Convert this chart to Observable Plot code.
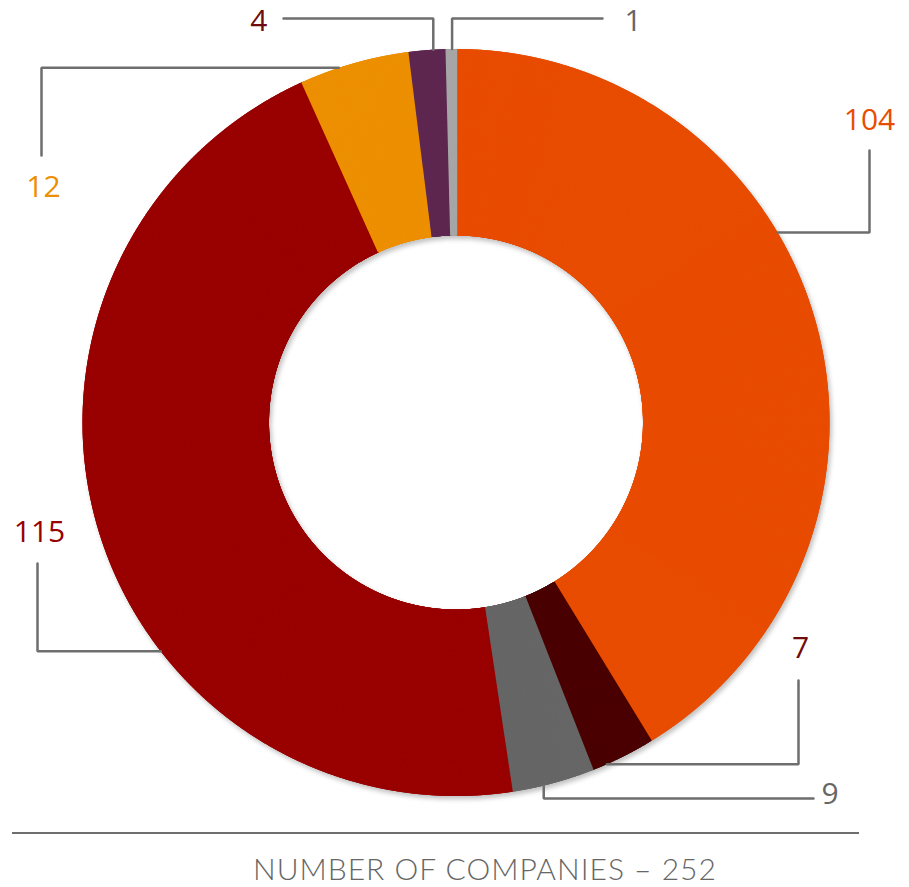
<!DOCTYPE html>
<html><head><meta charset="utf-8">
<script src="https://cdn.jsdelivr.net/npm/d3@7"></script>
<script src="https://cdn.jsdelivr.net/npm/@observablehq/plot@0.6"></script>
<style>
body{margin:0;background:#fff;}
#wrap{position:relative;width:909px;height:887px;overflow:hidden;}
#rule{position:absolute;left:12px;top:832px;width:847px;height:0;border-top:2.5px solid #6e6e6e;}
#caption{position:absolute;left:253px;top:850px;text-align:left;font-family:Lato,"Open Sans",sans-serif;font-weight:300;font-size:30px;letter-spacing:1px;color:#666666;white-space:nowrap;}
</style></head><body>
<div id="wrap"><div id="chart"></div><div id="rule"></div><div id="caption"></div></div>
<script>
// ---- data ----
const segments = ["Segment 1","Segment 2","Segment 3","Segment 4","Segment 5","Segment 6","Segment 7"];
const companies = [104, 7, 9, 115, 12, 4, 1];
const captionText = "NUMBER OF COMPANIES – 252";

// ---- styles ----
const sliceColors = ["#e84c00","#4a0000","#666666","#990000","#ec8f00","#5e2750","#a6a6a6"];
const labelColors = ["#e84c00","#6e0b0b","#666666","#990000","#ec8f00","#6e0b0b","#666666"];

// ---- layout ----
const W = 909, H = 815;
const cx = 455.5, cy = 422, R = 373.5, R0 = 187;
// leader layout: t = fraction along slice where connector starts; kind hv = horizontal then vertical
const leaders = [
  {t:0.40, kind:"hv", ex:869, ey:150, dx:0,  dy:-30, anchor:"middle"},
  {t:0.76, kind:"hv", ex:798, ey:680, dx:2,  dy:-32, anchor:"middle"},
  {t:0.61, kind:"vh", ex:813, ey:798, dx:8,  dy:-4,  anchor:"start"},
  {t:0.37, kind:"hv", ex:37,  ey:563, dx:2,  dy:-31, anchor:"middle"},
  {t:0.35, kind:"hv", ex:41,  ey:155, dx:2,  dy:32,  anchor:"middle"},
  {t:0.64, kind:"vh", ex:283, ey:18,  dx:-16, dy:3,  anchor:"end"},
  {t:0.58, kind:"vh", ex:602, ey:18,  dx:22, dy:3,   anchor:"start"}
];

const pie = d3.pie().sort(null).value(d => d)(companies);
const pt = (a, rad) => ({x: cx + rad * Math.sin(a), y: cy - rad * Math.cos(a)});

// each ring sector is filled with dense radial strokes (inner edge -> outer edge)
const spokes = [];
pie.forEach((p, i) => {
  const n = Math.max(2, Math.ceil((p.endAngle - p.startAngle) / 0.0025));
  for (let k = 0; k <= n; k++) {
    const a = p.startAngle + (p.endAngle - p.startAngle) * k / n;
    const o = pt(a, R), q = pt(a, R0);
    spokes.push({x1: q.x, y1: q.y, x2: o.x, y2: o.y, key: segments[i], color: sliceColors[i]});
  }
});

const leaderPts = [];
const labels = [];
pie.forEach((p, i) => {
  const L = leaders[i];
  const a = p.startAngle + (p.endAngle - p.startAngle) * L.t;
  const s = pt(a, R);
  const corner = L.kind === "hv" ? {x: L.ex, y: s.y} : {x: s.x, y: L.ey};
  [s, corner, {x: L.ex, y: L.ey}].forEach(q => leaderPts.push({x: q.x, y: q.y, key: segments[i]}));
  labels.push({x: L.ex + L.dx, y: L.ey + L.dy, text: String(companies[i]), fill: labelColors[i], anchor: L.anchor});
});

const textMark = anchor => Plot.text(labels.filter(d => d.anchor === anchor), {
  x: "x", y: "y", text: "text", fill: "fill", textAnchor: anchor,
  fontSize: 30, fontFamily: "Open Sans", fontWeight: 400, lineAnchor: "middle"
});

const chart = Plot.plot({
  width: W, height: H, margin: 0,
  x: {domain: [0, W], range: [0, W], axis: null},
  y: {domain: [0, H], range: [0, H], axis: null},
  color: {type: "identity"},
  marks: [
    Plot.link(spokes, {x1: "x1", y1: "y1", x2: "x2", y2: "y2", stroke: "#000", strokeWidth: 2.4, strokeLinecap: "butt", dx: 2, dy: 3}),
    Plot.link(spokes, {x1: "x1", y1: "y1", x2: "x2", y2: "y2", stroke: "color", strokeWidth: 2.4, strokeLinecap: "butt"}),
    Plot.line(leaderPts, {x: "x", y: "y", z: "key", stroke: "#6e6e6e", strokeWidth: 2.5, curve: "linear", strokeLinejoin: "miter"}),
    textMark("middle"), textMark("start"), textMark("end")
  ]
});
document.getElementById("chart").appendChild(chart);
// soften the shadow copy
const ns = "http://www.w3.org/2000/svg";
const defs = document.createElementNS(ns, "defs");
defs.innerHTML = '<filter id="sh" x="-10%" y="-10%" width="120%" height="120%"><feGaussianBlur stdDeviation="2.5"/></filter>';
chart.insertBefore(defs, chart.firstChild);
const linkGs = chart.querySelectorAll('g[aria-label="link"]');
if (linkGs.length) {
  linkGs[0].setAttribute("opacity", "0.25");
  linkGs[0].setAttribute("filter", "url(#sh)");
}
document.getElementById("caption").textContent = captionText;
</script>
</body></html>
